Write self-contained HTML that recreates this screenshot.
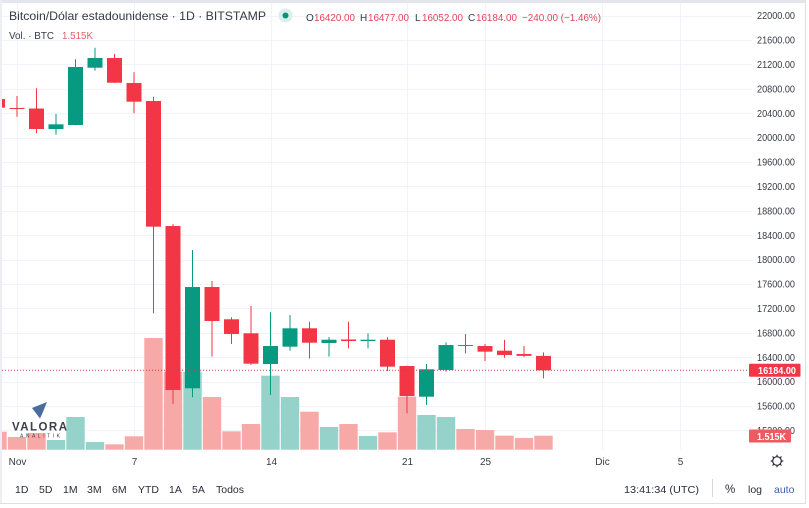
<!DOCTYPE html>
<html lang="es">
<head>
<meta charset="utf-8">
<title>Bitcoin/Dólar estadounidense</title>
<style>
html,body{margin:0;padding:0;background:#fff;width:809px;height:508px;overflow:hidden}
svg{display:block;font-family:"Liberation Sans",sans-serif}
</style>
</head>
<body>
<svg id="chart" xmlns="http://www.w3.org/2000/svg" width="809" height="508" viewBox="0 0 809 508">
  <defs>
    <clipPath id="paneClip"><rect x="2" y="3" width="750" height="447"/></clipPath>
  </defs>
  <rect x="0" y="0" width="809" height="508" fill="#ffffff"/>
  <rect x="0" y="0" width="806" height="3" fill="#e3e6ed"/>
  <rect x="0" y="0" width="2" height="504" fill="#eceef3"/>
  <rect x="805" y="0" width="1" height="504" fill="#dcdfe6"/>
  <rect x="0" y="503" width="806" height="1" fill="#dcdfe6"/>
  <g id="grid"></g>
  <g id="volumes" clip-path="url(#paneClip)"></g>
  <g id="logo">
    <path d="M47 402 L32 408 L40 418.500 L42.500 413 Z" fill="#4a6c9c"/>
    <text x="12" y="430.500" font-size="11.500" font-weight="bold" fill="#3a3f4a" textLength="55" lengthAdjust="spacing">VALORA</text>
    <text x="20" y="437.500" font-size="5" fill="#3a3f4a" textLength="40">ANALITIK</text>
  </g>
  <g id="candles" clip-path="url(#paneClip)"></g>
  <line id="priceLine" x1="2" x2="752" stroke="#c8404f" stroke-width="1" stroke-dasharray="1 2"/>
  <g id="priceAxis"></g>
  <g id="timeAxis"></g>
  <rect id="priceTag" x="749" width="51.500" height="13" rx="1" fill="#f23645"/>
  <text id="priceTagText" x="796" font-size="10.500" font-weight="bold" text-anchor="end" fill="#ffffff" textLength="38" lengthAdjust="spacingAndGlyphs"></text>
  <rect x="749" y="429.500" width="42" height="13" rx="1" fill="#ee5a60"/>
  <text id="volTagText" x="786" y="439.800" font-size="10.500" font-weight="bold" text-anchor="end" fill="#ffffff" textLength="29" lengthAdjust="spacingAndGlyphs"></text>

  <text x="9" y="20" font-size="12" fill="#363a45" textLength="257" lengthAdjust="spacingAndGlyphs">Bitcoin/Dólar estadounidense · 1D · BITSTAMP</text>
  <circle cx="285.500" cy="15.500" r="7" fill="#d8f0ec"/>
  <circle cx="285.500" cy="15.500" r="3" fill="#138c78"/>
  <g font-size="10">
    <text x="306" y="21" fill="#363a45">O</text>
    <text x="314" y="21" fill="#e2455a" textLength="41" lengthAdjust="spacingAndGlyphs">16420.00</text>
    <text x="360" y="21" fill="#363a45">H</text>
    <text x="368" y="21" fill="#e2455a" textLength="41" lengthAdjust="spacingAndGlyphs">16477.00</text>
    <text x="415" y="21" fill="#363a45">L</text>
    <text x="422" y="21" fill="#e2455a" textLength="41" lengthAdjust="spacingAndGlyphs">16052.00</text>
    <text x="468" y="21" fill="#363a45">C</text>
    <text x="476" y="21" fill="#e2455a" textLength="41" lengthAdjust="spacingAndGlyphs">16184.00</text>
    <text x="522" y="21" fill="#e2455a" textLength="79" lengthAdjust="spacingAndGlyphs">−240.00 (−1.46%)</text>
  </g>
  <text x="9" y="39" font-size="10" fill="#363a45" textLength="45" lengthAdjust="spacingAndGlyphs">Vol. · BTC</text>
  <text x="62" y="39" font-size="10" fill="#e0606a" textLength="31" lengthAdjust="spacingAndGlyphs">1.515K</text>

  <g transform="translate(777 461)" fill="none" stroke="#2a2e39" stroke-width="1.200">
    <circle r="4.300"/>
    <path d="M0-6.300V-4.300M0 4.300V6.300M-6.300 0H-4.300M4.300 0H6.300M-4.500-4.500L-3-3M3 3L4.500 4.500M-4.500 4.500L-3 3M3-3L4.500-4.500"/>
  </g>

  <g font-size="10.500" fill="#2a2e39">
    <text x="15" y="493">1D</text>
    <text x="39" y="493">5D</text>
    <text x="63" y="493">1M</text>
    <text x="87" y="493">3M</text>
    <text x="112" y="493">6M</text>
    <text x="138" y="493">YTD</text>
    <text x="169" y="493">1A</text>
    <text x="192" y="493">5A</text>
    <text x="216" y="493">Todos</text>
  </g>
  <text x="624" y="493" font-size="10.500" fill="#2a2e39" textLength="75" lengthAdjust="spacingAndGlyphs">13:41:34 (UTC)</text>
  <line x1="712.500" x2="712.500" y1="479" y2="497" stroke="#d6d9e0"/>
  <text x="725" y="493" font-size="11.500" fill="#2a2e39">%</text>
  <text x="748" y="493" font-size="10.500" fill="#2a2e39">log</text>
  <text x="774" y="493" font-size="10.500" fill="#3f5fa8">auto</text>
</svg>
<script>
const dayIndex = [0,1,2,3,4,5,6,7,8,9,10,11,12,13,14,15,16,17,18,19,20,21,22,23,24,25,26,27,28];
const opens  = [20631,20484,20475,20139,20205,21144,21303,20893,20598,18549,15889,17549,17020,16790,16287,16571,16872,16631,16689,16664,16685,16254,15751,16189,16598,16582,16505,16451,16420];
const highs  = [20660,20680,20807,20385,21282,21472,21369,21069,20669,18582,18156,17648,17053,17238,17135,17090,16980,16730,16980,16790,16725,16259,16287,16643,16779,16615,16685,16582,16477];
const lows   = [20480,20341,20069,20046,20200,21095,20895,20397,17118,15631,15741,16407,16615,16271,15779,16505,16374,16407,16544,16544,16172,15479,15615,16161,16462,16336,16390,16400,16052];
const closes = [20489,20467,20139,20216,21156,21303,20898,20587,18538,15861,17549,16992,16779,16292,16582,16872,16636,16685,16664,16685,16243,15762,16200,16598,16582,16489,16435,16420,16184];
const volumes = [1.95,1.37,1.81,1.05,3.54,0.83,0.58,1.45,12.09,8.44,8.44,5.70,1.99,2.78,8.01,5.70,4.11,2.46,2.78,1.48,1.88,5.74,3.76,3.54,2.24,2.13,1.52,1.27,1.515];
const volumeIsUp = [0,0,0,1,1,1,0,0,0,0,1,0,0,0,1,1,0,1,0,1,0,0,1,1,0,0,0,0,0];
const priceTicks = [22000,21600,21200,20800,20400,20000,19600,19200,18800,18400,18000,17600,17200,16800,16400,16000,15600,15200];
const timeTicks = [1,7,14,21,25,31,35];
const timeLabels = ["Nov","7","14","21","25","Dic","5"];
const lastPrice = 16184;
const lastVolume = 1.515;

const NS = "http://www.w3.org/2000/svg";
const UP = "#089981";
const DOWN = "#f23645";
const UP_VOL = "#94d2ca";
const DOWN_VOL = "#f7a9a7";
const VOL_BASE = 449.7;

function xScale(i){ return 17 + (i - 1) * 19.5; }
function yScale(p){ return 15.5 + (22000 - p) * 0.061; }
function volH(v){ return v * 9.24; }
function make(tag, attrs, parent){
  const e = document.createElementNS(NS, tag);
  for (const k in attrs) e.setAttribute(k, attrs[k]);
  parent.appendChild(e);
  return e;
}

const grid = document.getElementById("grid");
const priceAxis = document.getElementById("priceAxis");
const timeAxis = document.getElementById("timeAxis");
const volG = document.getElementById("volumes");
const candleG = document.getElementById("candles");

priceTicks.forEach(function(p){
  const y = Math.round(yScale(p)) + 0.5;
  const gl = make("line", {x1:2, x2:752, y1:y, y2:y, stroke:"#f0f3fa"}, grid);
  
  
  const t = make("text", {x:795, y:yScale(p)+3.7, "font-size":10.5, "text-anchor":"end", fill:"#363a45", textLength:38, lengthAdjust:"spacingAndGlyphs"}, priceAxis);
  
  
  t.textContent = p.toFixed(2);
});

timeTicks.forEach(function(d, k){
  const x = Math.round(xScale(d)) + 0.5;
  const gl = make("line", {x1:x, x2:x, y1:3, y2:450, stroke:"#f0f3fa"}, grid);
  
  
  const t = make("text", {x:x, y:465, "font-size":10, "text-anchor":"middle", fill:"#363a45"}, timeAxis);
  
  
  t.textContent = timeLabels[k];
});

dayIndex.forEach(function(d, i){
  const cx = xScale(d);
  const h = volH(volumes[i]);
  const bar = make("rect", {x:cx-9.2, y:VOL_BASE-h, width:18.4, height:h, fill: volumeIsUp[i] ? UP_VOL : DOWN_VOL}, volG);
  
  
});

dayIndex.forEach(function(d, i){
  const cx = xScale(d);
  const up = closes[i] >= opens[i];
  const color = up ? UP : DOWN;
  const wick = make("line", {x1:cx, x2:cx, y1:yScale(highs[i]), y2:yScale(lows[i]), stroke:color, "stroke-width":1}, candleG);
  
  
  const top = yScale(Math.max(opens[i], closes[i]));
  const bottom = yScale(Math.min(opens[i], closes[i]));
  const body = make("rect", {x:cx-7.5, y:top, width:15, height:Math.max(bottom-top, 1), fill:color}, candleG);
  
  
});

const py = yScale(lastPrice);
const line = document.getElementById("priceLine");
line.setAttribute("y1", py);
line.setAttribute("y2", py);
document.getElementById("priceTag").setAttribute("y", py - 6.5);
const tagText = document.getElementById("priceTagText");
tagText.setAttribute("y", py + 3.7);
tagText.textContent = lastPrice.toFixed(2);
document.getElementById("volTagText").textContent = lastVolume.toFixed(3) + "K";
</script>
</body>
</html>
